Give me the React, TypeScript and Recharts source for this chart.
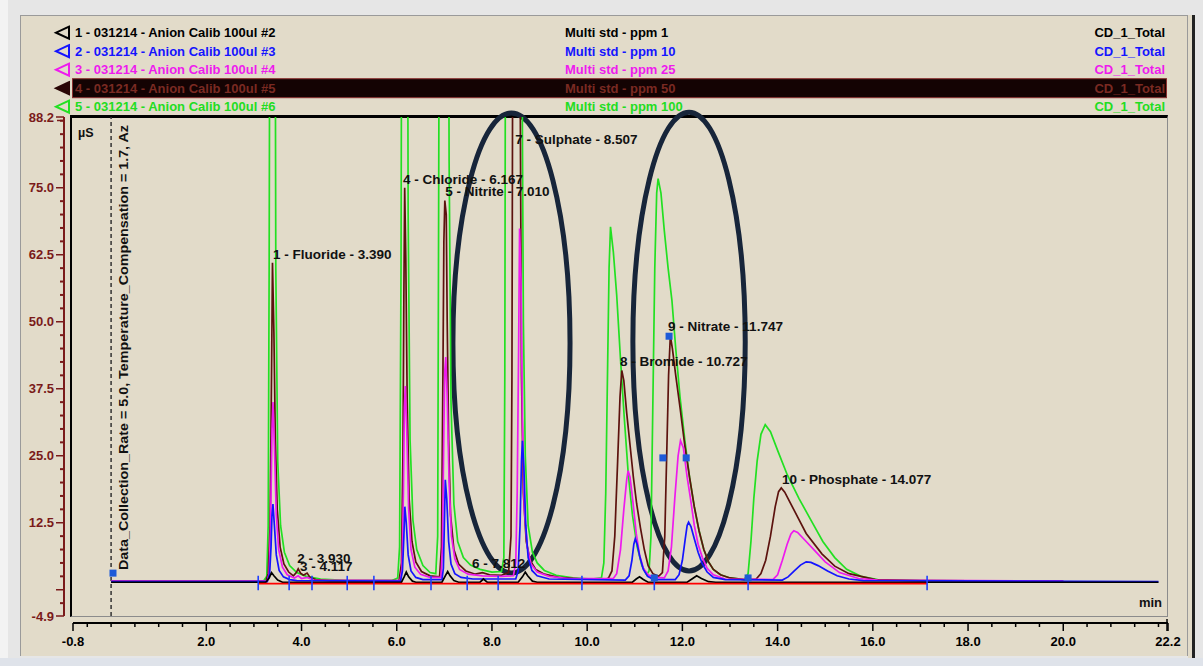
import React from "react";
import {
  LineChart,
  Line,
  XAxis,
  YAxis,
  ReferenceLine,
  ReferenceDot,
  ReferenceArea,
} from "recharts";

type Pt = [number, number];

// legend rows
const sampleNames = [
  "1 - 031214 - Anion Calib 100ul #2",
  "2 - 031214 - Anion Calib 100ul #3",
  "3 - 031214 - Anion Calib 100ul #4",
  "4 - 031214 - Anion Calib 100ul #5",
  "5 - 031214 - Anion Calib 100ul #6",
];
const standardNames = [
  "Multi std - ppm 1",
  "Multi std - ppm 10",
  "Multi std - ppm 25",
  "Multi std - ppm 50",
  "Multi std - ppm 100",
];
const channelName = "CD_1_Total";
const seriesColors = ["#000000", "#1414ff", "#ee1aee", "#5c120e", "#22e022"];
const legendTextColors = ["#000000", "#1414ff", "#ee1aee", "#7a2a22", "#22dd22"];

// traces, [minutes, µS]
const ppm1: Pt[] = [
  [0, 1.4], [3.25, 1.4], [3.32, 2.2], [3.37, 3.2], [3.42, 2.6], [3.5, 1.8], [3.6, 1.4],
  [6.1, 1.4], [6.16, 2.5], [6.2, 3.3], [6.25, 2.4], [6.33, 1.6], [6.4, 1.4],
  [6.95, 1.4], [7.02, 2.6], [7.07, 3.4], [7.12, 2.6], [7.2, 1.7], [7.3, 1.4],
  [7.75, 1.4], [7.82, 2.0], [7.9, 1.4],
  [8.55, 1.4], [8.64, 2.4], [8.7, 3.3], [8.75, 2.6], [8.85, 1.6], [8.95, 1.4],
  [10.95, 1.4], [11.03, 2.0], [11.1, 2.4], [11.18, 1.9], [11.28, 1.4],
  [12.1, 1.4], [12.2, 2.0], [12.3, 2.6], [12.4, 2.1], [12.55, 1.5], [12.7, 1.4],
  [22.0, 1.4],
];

const ppm10: Pt[] = [
  [0, 1.5], [3.28, 1.5], [3.33, 3], [3.36, 8], [3.38, 14], [3.4, 16], [3.43, 12], [3.47, 6.5],
  [3.53, 3.6], [3.62, 2.4], [3.75, 1.9], [3.9, 1.7],
  [6.08, 1.6], [6.12, 3.5], [6.15, 10], [6.17, 15.5], [6.2, 12.5], [6.24, 6.5], [6.3, 3.5],
  [6.4, 2.3], [6.55, 1.9],
  [6.95, 1.9], [6.98, 4], [7.0, 12], [7.02, 20.5], [7.05, 17], [7.09, 9], [7.14, 4.8],
  [7.22, 3], [7.35, 2.3], [7.6, 2],
  [8.5, 2], [8.55, 3.5], [8.59, 12], [8.62, 24], [8.64, 27.8], [8.67, 23], [8.71, 12],
  [8.76, 6], [8.84, 3.6], [8.95, 2.6], [9.2, 2],
  [10.8, 1.8], [10.88, 2.6], [10.94, 5.5], [10.98, 8.5], [11.01, 9.5], [11.05, 8.5],
  [11.11, 6], [11.18, 3.8], [11.27, 2.5], [11.4, 1.9],
  [11.85, 1.9], [11.93, 2.8], [12.0, 5.5], [12.06, 9.5], [12.1, 12], [12.13, 12.6],
  [12.18, 11.8], [12.25, 9.5], [12.33, 7], [12.42, 4.8], [12.52, 3.3], [12.65, 2.3], [12.9, 1.9],
  [14.1, 1.8], [14.22, 2.4], [14.35, 3.5], [14.48, 4.6], [14.6, 5.2], [14.7, 5.1],
  [14.85, 4.5], [15.05, 3.5], [15.25, 2.6], [15.5, 2], [15.8, 1.7], [22.0, 1.5],
];

const ppm25: Pt[] = [
  [0, 1.6], [3.28, 1.6], [3.32, 3], [3.35, 12], [3.38, 30], [3.4, 35], [3.43, 27], [3.47, 14],
  [3.52, 7.5], [3.6, 4.2], [3.7, 2.8], [3.85, 2.2], [3.93, 2.6], [4.0, 2.1], [4.12, 2.3], [4.25, 1.8],
  [6.07, 1.7], [6.11, 4], [6.14, 18], [6.16, 34], [6.18, 38], [6.21, 30], [6.25, 15], [6.3, 7.5],
  [6.38, 4.2], [6.5, 2.9], [6.7, 2.3],
  [6.93, 2.3], [6.96, 8], [6.99, 30], [7.01, 41], [7.03, 43.4], [7.06, 36], [7.1, 20],
  [7.15, 10], [7.22, 5.8], [7.32, 3.8], [7.5, 2.9], [7.8, 2.6], [8.2, 2.5],
  [8.45, 2.6], [8.5, 5], [8.53, 18], [8.56, 45], [8.58, 67.4], [8.61, 58], [8.64, 32],
  [8.68, 15], [8.74, 8], [8.82, 4.8], [8.95, 3.3], [9.2, 2.5], [9.6, 2.1],
  [10.55, 2.1], [10.62, 3], [10.7, 7.5], [10.77, 15], [10.83, 20.5], [10.86, 22.2], [10.9, 21],
  [10.96, 16.5], [11.03, 10.5], [11.1, 6.5], [11.18, 4], [11.28, 2.8], [11.4, 2.3],
  [11.62, 2.2], [11.7, 3.5], [11.77, 8], [11.84, 17], [11.91, 25], [11.96, 27.8], [12.02, 26.5],
  [12.1, 21], [12.17, 17], [12.25, 12], [12.33, 8.5], [12.42, 6], [12.52, 4], [12.65, 2.8], [12.9, 2],
  [13.9, 1.9], [14.0, 2.8], [14.1, 5.5], [14.2, 8.5], [14.28, 10.4], [14.34, 11], [14.42, 10.7],
  [14.6, 9], [14.78, 7.3], [15.0, 5.2], [15.3, 3.2], [15.7, 2.1], [16.1, 1.8], [20.0, 1.6],
];

const ppm50: Pt[] = [
  [0, 1.6], [3.25, 1.6], [3.3, 3], [3.34, 12], [3.37, 40], [3.39, 61], [3.42, 48], [3.45, 28],
  [3.49, 15], [3.55, 8], [3.63, 4.8], [3.73, 3.3], [3.83, 2.6], [3.89, 3.2], [3.93, 3.9],
  [3.98, 3.1], [4.04, 2.7], [4.117, 3.1], [4.18, 2.3], [4.3, 1.9], [4.6, 1.7],
  [6.05, 1.7], [6.1, 5], [6.13, 25], [6.15, 55], [6.167, 75], [6.19, 62], [6.22, 35], [6.26, 17],
  [6.32, 9], [6.4, 5.2], [6.52, 3.4], [6.7, 2.6],
  [6.9, 2.4], [6.94, 8], [6.97, 40], [6.99, 65], [7.01, 72.6], [7.04, 70], [7.06, 50], [7.09, 28],
  [7.13, 14], [7.2, 7.5], [7.3, 4.8], [7.45, 3.5], [7.65, 2.9], [7.8, 3.2], [7.95, 2.8], [8.2, 2.7],
  [8.35, 3.2], [8.4, 10], [8.42, 40], [8.44, 120], [8.58, 120], [8.6, 80], [8.62, 40], [8.66, 18],
  [8.72, 9], [8.8, 5.5], [8.92, 3.8], [9.1, 2.9], [9.4, 2.3], [9.9, 2], [10.4, 2],
  [10.45, 2.2], [10.52, 3.5], [10.58, 10], [10.64, 24], [10.69, 36], [10.727, 40.9], [10.77, 39],
  [10.83, 33], [10.9, 27], [10.97, 21], [11.04, 16], [11.12, 11.5], [11.2, 7.5], [11.28, 4.5],
  [11.38, 3], [11.5, 2.5],
  [11.58, 3.2], [11.63, 10], [11.67, 25], [11.71, 40], [11.747, 47.4], [11.79, 45], [11.86, 40],
  [11.95, 34], [12.05, 27], [12.15, 21], [12.25, 15.5], [12.35, 11], [12.45, 7.5], [12.55, 5.2],
  [12.65, 3.8], [12.8, 2.8], [13.0, 2.2], [13.3, 1.9],
  [13.55, 2], [13.65, 3], [13.75, 5.5], [13.85, 10], [13.95, 15.5], [14.02, 18.3], [14.077, 19],
  [14.15, 18.2], [14.25, 16.5], [14.43, 13.4], [14.6, 10.5], [14.93, 6.7], [15.2, 4.4], [15.5, 3],
  [16.05, 1.9], [17.0, 1.7], [20.0, 1.6],
];

const ppm100: Pt[] = [
  [0, 1.6], [3.2, 1.6], [3.27, 2.5], [3.3, 12], [3.32, 60], [3.34, 140], [3.44, 140], [3.46, 60],
  [3.5, 24], [3.56, 12], [3.64, 7], [3.75, 4.5], [3.9, 3.2], [4.1, 2.5], [4.4, 2], [5.0, 1.7],
  [5.9, 1.7], [6.02, 2.2], [6.06, 8], [6.09, 60], [6.11, 140], [6.22, 140], [6.24, 70], [6.28, 28],
  [6.34, 13], [6.42, 7.5], [6.55, 4.5], [6.7, 3.2],
  [6.82, 3], [6.86, 10], [6.88, 70], [6.9, 140], [7.08, 140], [7.1, 80], [7.14, 35], [7.2, 16],
  [7.28, 9], [7.4, 6], [7.55, 4.6], [7.75, 3.8], [8.0, 3.3], [8.2, 3.4],
  [8.25, 6], [8.27, 40], [8.29, 140], [8.62, 140], [8.64, 85], [8.66, 50], [8.7, 25], [8.76, 12],
  [8.85, 7], [8.95, 5], [9.1, 3.6], [9.35, 2.7], [9.7, 2.2], [10.1, 2],
  [10.3, 2.2], [10.35, 5], [10.39, 18], [10.43, 42], [10.46, 60], [10.49, 67.7], [10.55, 63],
  [10.62, 55], [10.7, 43], [10.78, 32], [10.86, 22], [10.95, 14], [11.05, 8], [11.15, 4.5], [11.25, 2.8],
  [11.3, 3.5], [11.34, 10], [11.38, 35], [11.42, 60], [11.46, 74], [11.49, 76.7], [11.55, 74],
  [11.62, 67], [11.7, 60], [11.78, 54], [11.86, 45], [11.95, 36], [12.05, 28], [12.15, 21],
  [12.25, 15.5], [12.35, 11], [12.45, 7.5], [12.55, 5.2], [12.65, 3.8], [12.8, 2.8], [13.0, 2.2],
  [13.3, 1.9], [13.38, 3], [13.44, 9], [13.5, 17], [13.57, 24], [13.65, 29], [13.74, 30.8],
  [13.85, 29.5], [14.0, 26], [14.2, 21.5], [14.45, 17], [14.7, 13], [14.95, 9], [15.2, 6],
  [15.45, 3.8], [15.75, 2.5], [16.1, 1.9], [17.0, 1.7], [19.7, 1.6],
];

const integrationBaseline: Pt[] = [[3.09, 1.15], [17.14, 1.15]];
const integrationTicks = [3.09, 3.74, 4.22, 4.96, 5.52, 6.72, 7.48, 8.13, 9.89, 11.41, 13.38, 17.14];
const peakMarkers: Pt[] = [[0.04, 3.1], [11.72, 47.3], [11.59, 24.6], [12.08, 24.6], [11.41, 2.2], [13.38, 2.2]];

const peakLabels = [
  { text: "1 - Fluoride - 3.390", t: 3.4, v: 61.7 },
  { text: "2 - 3.930", t: 3.91, v: 5.0 },
  { text: "3 - 4.117", t: 3.97, v: 3.5 },
  { text: "4 - Chloride - 6.167", t: 6.13, v: 75.7 },
  { text: "5 - Nitrite - 7.010", t: 7.02, v: 73.5 },
  { text: "6 - 7.812", t: 7.58, v: 4.1 },
  { text: "7 - Sulphate - 8.507", t: 8.49, v: 83.2 },
  { text: "8 - Bromide - 10.727", t: 10.69, v: 41.75 },
  { text: "9 - Nitrate - 11.747", t: 11.7, v: 48.3 },
  { text: "10 - Phosphate - 14.077", t: 14.09, v: 19.7 },
];

// hand-drawn circles around sulphate and nitrate
const highlightAreas = [
  { t1: 7.18, t2: 9.64, v1: 3.13, v2: 88.95 },
  { t1: 10.96, t2: 13.32, v1: 3.5, v2: 89.1 },
];

const xMajorTicks = [-0.8, 2, 4, 6, 8, 10, 12, 14, 16, 18, 20, 22.2];
const yLabelTicks = [88.2, 75, 62.5, 50, 37.5, 25, 12.5, -4.9];

const xAllTicks: number[] = [...xMajorTicks];
for (let i = -1; i <= 44; i++) {
  const v = i * 0.5;
  if (!xAllTicks.includes(v)) xAllTicks.push(v);
}
xAllTicks.sort((a, b) => a - b);

const yAllTicks: number[] = [...yLabelTicks, 0];
for (let i = -1; i <= 35; i++) {
  const v = i * 2.5;
  if (!yAllTicks.includes(v)) yAllTicks.push(v);
}
yAllTicks.sort((a, b) => a - b);

const toRows = (pts: Pt[]) => pts.map(([t, v]) => ({ t, v }));

const FONT = "'Liberation Sans', Arial, sans-serif";
const AXIS_RED = "#7a1a1a";

const XTick = (props: any) => {
  const { x, payload } = props;
  const major = xMajorTicks.includes(payload.value);
  return (
    <g>
      <line x1={x} x2={x} y1={623} y2={major ? 631 : 627} stroke="#000" strokeWidth={1.5} />
      {major && (
        <text x={x} y={646} textAnchor="middle" fontFamily={FONT} fontWeight={700} fontSize={13} fill="#000">
          {payload.value.toFixed(1)}
        </text>
      )}
    </g>
  );
};

const YTick = (props: any) => {
  const { y, payload } = props;
  const v = payload.value;
  const labelled = yLabelTicks.includes(v);
  const major = labelled || v === 0;
  return (
    <g>
      <line x1={major ? 56 : 60} x2={64} y1={y} y2={y} stroke={AXIS_RED} strokeWidth={major ? 1.5 : 2} />
      {labelled && (
        <text x={54} y={y + 4.5} textAnchor="end" fontFamily={FONT} fontWeight={700} fontSize={13} fill={AXIS_RED}>
          {v.toFixed(1)}
        </text>
      )}
    </g>
  );
};

const traces = [
  { key: "ppm100", data: ppm100, color: seriesColors[4] },
  { key: "ppm50", data: ppm50, color: seriesColors[3] },
  { key: "ppm25", data: ppm25, color: seriesColors[2] },
  { key: "ppm10", data: ppm10, color: seriesColors[1] },
  { key: "ppm1", data: ppm1, color: seriesColors[0] },
];

export default function App() {
  return (
    <div style={{ position: "absolute", left: 0, top: 0, width: 1203, height: 666, overflow: "hidden", background: "#e6e6e6" }}>
      <div style={{ position: "absolute", left: 0, top: 0, width: 8, height: 666, background: "#f3f3f3" }} />
      <div
        style={{
          position: "absolute",
          left: 20,
          top: 15,
          width: 1168,
          height: 641,
          background: "#e2dbc9",
          borderLeft: "1px solid #9a9a9a",
          borderTop: "1px solid #9a9a9a",
          borderRight: "1px solid #9a9a9a",
          boxSizing: "border-box",
        }}
      />
      <div style={{ position: "absolute", left: 1188, top: 15, width: 4, height: 643, background: "#e2dbc9" }} />
      <div style={{ position: "absolute", left: 1192, top: 15, width: 3, height: 643, background: "#222" }} />
      <div style={{ position: "absolute", left: 0, top: 658, width: 1203, height: 8, background: "#dfe3ea" }} />
      {/* plot frame */}
      <div
        style={{
          position: "absolute",
          left: 70,
          top: 115,
          width: 1098,
          height: 502,
          borderTop: "3px solid #000",
          borderLeft: "2px solid #000",
          borderRight: "1px solid #8c8c8c",
          borderBottom: "1px solid #8c8c8c",
          boxSizing: "border-box",
        }}
      />

      <div style={{ position: "absolute", left: 0, top: 0 }}>
        <LineChart width={1203} height={666} margin={{ top: 117, right: 35, bottom: 20, left: 13 }}>
          <XAxis
            dataKey="t"
            type="number"
            domain={[-0.8, 22.2]}
            ticks={xAllTicks}
            interval={0}
            height={30}
            axisLine={false}
            tickLine={false}
            tick={<XTick />}
            allowDataOverflow
          />
          <YAxis
            type="number"
            domain={[-4.9, 88.2]}
            ticks={yAllTicks}
            interval={0}
            width={60}
            axisLine={false}
            tickLine={false}
            tick={<YTick />}
            allowDataOverflow
          />
          <ReferenceLine x={0} stroke="#333" strokeDasharray="4 3" strokeWidth={1.5} />
          {traces.map((s) => (
            <Line
              key={s.key}
              data={toRows(s.data)}
              dataKey="v"
              type="linear"
              stroke={s.color}
              strokeWidth={1.7}
              dot={false}
              isAnimationActive={false}
            />
          ))}
          <Line
            data={toRows(integrationBaseline)}
            dataKey="v"
            type="linear"
            stroke="#ff0000"
            strokeWidth={1.7}
            dot={false}
            isAnimationActive={false}
          />
          {integrationTicks.map((t) => (
            <ReferenceLine
              key={"it" + t}
              segment={[{ x: t, y: -0.1 }, { x: t, y: 2.6 }]}
              stroke="#2040ff"
              strokeWidth={1.6}
            />
          ))}
          {peakMarkers.map(([t, v]) => (
            <ReferenceDot
              key={"pm" + t + v}
              x={t}
              y={v}
              r={4}
              ifOverflow="visible"
              shape={(p: any) => <rect x={p.cx - 3.5} y={p.cy - 3.5} width={7} height={7} fill="#1d5ad8" />}
            />
          ))}
          {peakLabels.map((l) => (
            <ReferenceDot
              key={l.text}
              x={l.t}
              y={l.v}
              r={1}
              ifOverflow="visible"
              shape={(p: any) => (
                <text x={p.cx} y={p.cy} fontFamily={FONT} fontWeight={700} fontSize={13.5} fill="#111">
                  {l.text}
                </text>
              )}
            />
          ))}
          {highlightAreas.map((a, i) => (
            <ReferenceArea
              key={"hl" + i}
              x1={a.t1}
              x2={a.t2}
              y1={a.v1}
              y2={a.v2}
              ifOverflow="visible"
              shape={(p: any) => (
                <ellipse
                  cx={p.x + p.width / 2}
                  cy={p.y + p.height / 2}
                  rx={Math.abs(p.width) / 2}
                  ry={Math.abs(p.height) / 2}
                  fill="none"
                  stroke="#17253a"
                  strokeWidth={5}
                />
              )}
            />
          ))}
        </LineChart>
      </div>

      <svg width={1203} height={666} style={{ position: "absolute", left: 0, top: 0, pointerEvents: "none" }}>
        {/* y axis ruler */}
        <line x1={64} x2={64} y1={117} y2={616} stroke={AXIS_RED} strokeWidth={2} />
        <line x1={57} x2={65} y1={120.5} y2={120.5} stroke={AXIS_RED} strokeWidth={1.5} />
        {/* x axis ruler */}
        <line x1={73} x2={1168} y1={623} y2={623} stroke="#000" strokeWidth={2} />
        <line x1={1167} x2={1167} y1={619} y2={631} stroke="#000" strokeWidth={1.5} />

        <text x={78} y={137} fontFamily={FONT} fontWeight={700} fontSize={12.5} fill="#111">µS</text>
        <text
          x={128}
          y={570}
          transform="rotate(-90 128 570)"
          fontFamily={FONT}
          fontWeight={700}
          fontSize={12.5}
          fill="#111"
          textLength={445}
          lengthAdjust="spacingAndGlyphs"
        >
          Data_Collection_Rate = 5.0, Temperature_Compensation = 1.7, Az
        </text>
        <text x={1162} y={607} textAnchor="end" fontFamily={FONT} fontWeight={700} fontSize={13} fill="#111">min</text>

        {/* legend */}
        {sampleNames.map((name, i) => {
          const cy = 32.7 + i * 18.5;
          const selected = i === 3;
          const col = legendTextColors[i];
          return (
            <g key={name}>
              {selected && (
                <rect x={72.5} y={cy - 9.5} width={1094} height={19} fill="#140303" stroke="#8a3030" strokeWidth={1} />
              )}
              <polygon
                points={`69,${cy - 6} 56,${cy} 69,${cy + 6}`}
                fill={selected ? "#2a0606" : "none"}
                stroke={selected ? "#2a0606" : seriesColors[i]}
                strokeWidth={2}
              />
              <text x={75} y={cy + 4.6} fontFamily={FONT} fontWeight={700} fontSize={13} fill={col}>
                {name}
              </text>
              <text x={565} y={cy + 4.6} fontFamily={FONT} fontWeight={700} fontSize={13} fill={col}>
                {standardNames[i]}
              </text>
              <text x={1165} y={cy + 4.6} textAnchor="end" fontFamily={FONT} fontWeight={700} fontSize={13} fill={col}>
                {channelName}
              </text>
            </g>
          );
        })}
      </svg>
    </div>
  );
}
